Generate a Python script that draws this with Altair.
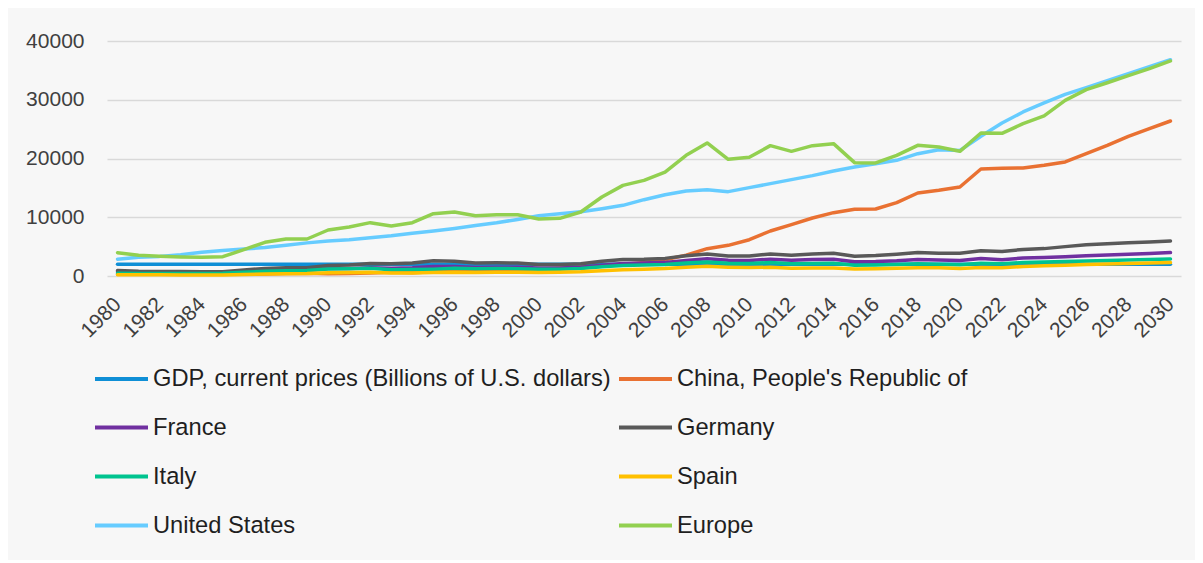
import altair as alt
import pandas as pd

years = list(range(1980, 2031))

series_names = [
    "GDP, current prices (Billions of U.S. dollars)",
    "China, People's Republic of",
    "France",
    "Germany",
    "Italy",
    "Spain",
    "United States",
    "Europe",
]
series_colors = ["#0F8FD6", "#E97132", "#7030A0", "#595959", "#00C48F", "#FFC000", "#66CCFF", "#92D050"]

gdp_header = [2000, 2000, 2000, 2000, 2000, 2000, 2000, 2000, 2000, 2000,
              2000, 2000, 2000, 2000, 2000, 2000, 2000, 2000, 2000, 2000,
              2000, 2000, 2000, 2000, 2000, 2000, 2000, 2000, 2000, 2000,
              2000, 2000, 2000, 2000, 2000, 2000, 2000, 2000, 2000, 2000,
              2000, 2000, 2000, 2000, 2000, 2000, 2000, 2000, 2000, 2000,
              2000]
china = [303, 288, 284, 305, 313, 310, 301, 327, 408, 457,
         395, 415, 493, 617, 564, 737, 867, 965, 1029, 1094,
         1211, 1339, 1471, 1660, 1955, 2286, 2752, 3550, 4650, 5220,
         6180, 7660, 8740, 9870, 10780, 11350, 11400, 12480, 14130, 14580,
         15150, 18210, 18330, 18380, 18840, 19410, 20820, 22240, 23770, 25080,
         26380]
france = [700, 620, 590, 560, 530, 550, 770, 930, 1010, 1020,
          1270, 1270, 1400, 1320, 1390, 1600, 1610, 1460, 1510, 1490,
          1360, 1380, 1500, 1840, 2120, 2200, 2320, 2660, 2930, 2700,
          2650, 2870, 2680, 2810, 2860, 2440, 2470, 2590, 2790, 2730,
          2640, 2960, 2780, 3050, 3160, 3280, 3450, 3580, 3700, 3830,
          3980]
germany = [950, 800, 780, 770, 720, 730, 1040, 1290, 1400, 1400,
           1770, 1870, 2130, 2070, 2210, 2590, 2500, 2220, 2240, 2200,
           1950, 1950, 2080, 2500, 2810, 2850, 3000, 3440, 3750, 3420,
           3400, 3750, 3530, 3730, 3890, 3360, 3470, 3690, 3980, 3890,
           3890, 4280, 4160, 4530, 4660, 5000, 5300, 5480, 5640, 5800,
           5960]
italy = [480, 430, 430, 440, 440, 450, 640, 800, 880, 930,
         1180, 1250, 1320, 1060, 1090, 1170, 1310, 1240, 1270, 1250,
         1150, 1170, 1270, 1570, 1800, 1860, 1950, 2210, 2400, 2190,
         2140, 2290, 2090, 2140, 2160, 1840, 1880, 1960, 2090, 2010,
         1900, 2180, 2070, 2300, 2380, 2460, 2560, 2640, 2720, 2800,
         2880]
spain = [230, 200, 200, 180, 180, 190, 260, 330, 380, 420,
         540, 580, 630, 530, 530, 610, 640, 590, 620, 640,
         600, 630, 710, 910, 1070, 1160, 1270, 1480, 1640, 1500,
         1430, 1490, 1340, 1370, 1380, 1200, 1230, 1320, 1420, 1400,
         1280, 1450, 1420, 1620, 1730, 1850, 1950, 2040, 2120, 2200,
         2280]
united_states = [2860, 3210, 3340, 3630, 4040, 4340, 4580, 4860, 5240, 5640,
                 5960, 6160, 6520, 6860, 7290, 7640, 8070, 8580, 9060, 9630,
                 10250, 10580, 10940, 11460, 12030, 12990, 13840, 14470, 14700, 14360,
                 15040, 15720, 16400, 17080, 17870, 18550, 19120, 19690, 20820, 21500,
                 21350, 23770, 26040, 27920, 29450, 30920, 32060, 33250, 34440, 35630,
                 36820]
europe = [3970, 3520, 3350, 3230, 3180, 3290, 4480, 5730, 6300, 6300,
          7830, 8340, 9080, 8510, 9080, 10610, 10890, 10270, 10440, 10440,
          9700, 9820, 10890, 13450, 15430, 16280, 17700, 20540, 22640, 19860,
          20200, 22190, 21220, 22190, 22530, 19290, 19240, 20540, 22240, 21960,
          21220, 24340, 24280, 25930, 27240, 29900, 31720, 32900, 34100, 35300,
          36600]

all_values = [gdp_header, china, france, germany, italy, spain, united_states, europe]

rows = []
for name, vals in zip(series_names, all_values):
    for yr, v in zip(years, vals):
        rows.append({"year": yr, "series": name, "value": v})
df = pd.DataFrame(rows)

y_ticks = [0, 10000, 20000, 30000, 40000]
x_label_years = [y for y in years if y % 2 == 0]

base = alt.Chart(df).mark_line(strokeWidth=3.5, strokeCap="round", strokeJoin="round").encode(
    x=alt.X(
        "year:O",
        title=None,
        axis=alt.Axis(
            values=x_label_years,
            labelAngle=-45,
            labelAlign="right",
            labelBaseline="middle",
            labelFontSize=21,
            labelFont="Liberation Sans",
            labelColor="#404040",
            labelPadding=25,
            ticks=False,
            tickSize=0,
            domain=False,
            grid=False,
        ),
    ),
    y=alt.Y(
        "value:Q",
        title=None,
        scale=alt.Scale(domain=[0, 40000], nice=False),
        axis=alt.Axis(
            values=y_ticks,
            format="d",
            labelFontSize=21,
            labelFont="Liberation Sans",
            labelColor="#404040",
            labelPadding=23,
            ticks=False,
            tickSize=0,
            domain=False,
            grid=True,
            gridColor="#d9d9d9",
            gridWidth=1.5,
        ),
    ),
    color=alt.Color(
        "series:N",
        scale=alt.Scale(domain=series_names, range=series_colors),
        legend=alt.Legend(
            title=None,
            orient="none",
            direction="horizontal",
            legendX=-14,
            legendY=309,
            columns=2,
            symbolType="stroke",
            symbolSize=2809,
            symbolStrokeWidth=4,
            labelFontSize=23.7,
            labelFont="Liberation Sans",
            labelColor="#1f1f1f",
            labelOffset=3,
            rowPadding=8,
            columnPadding=0,
            labelLimit=0,
        ),
    ),
)

layers = [base.transform_filter(alt.datum.series == name) for name in series_names]

chart = alt.layer(*layers).properties(
    width=1074,
    height=235,
    padding={"left": 99, "top": 33, "right": 14, "bottom": 284},
    autosize=alt.AutoSizeParams(type="none"),
    background="#f7f7f7",
).configure_view(stroke=None)

chart.save("out.html", embed_options={"renderer": "svg", "actions": False})
